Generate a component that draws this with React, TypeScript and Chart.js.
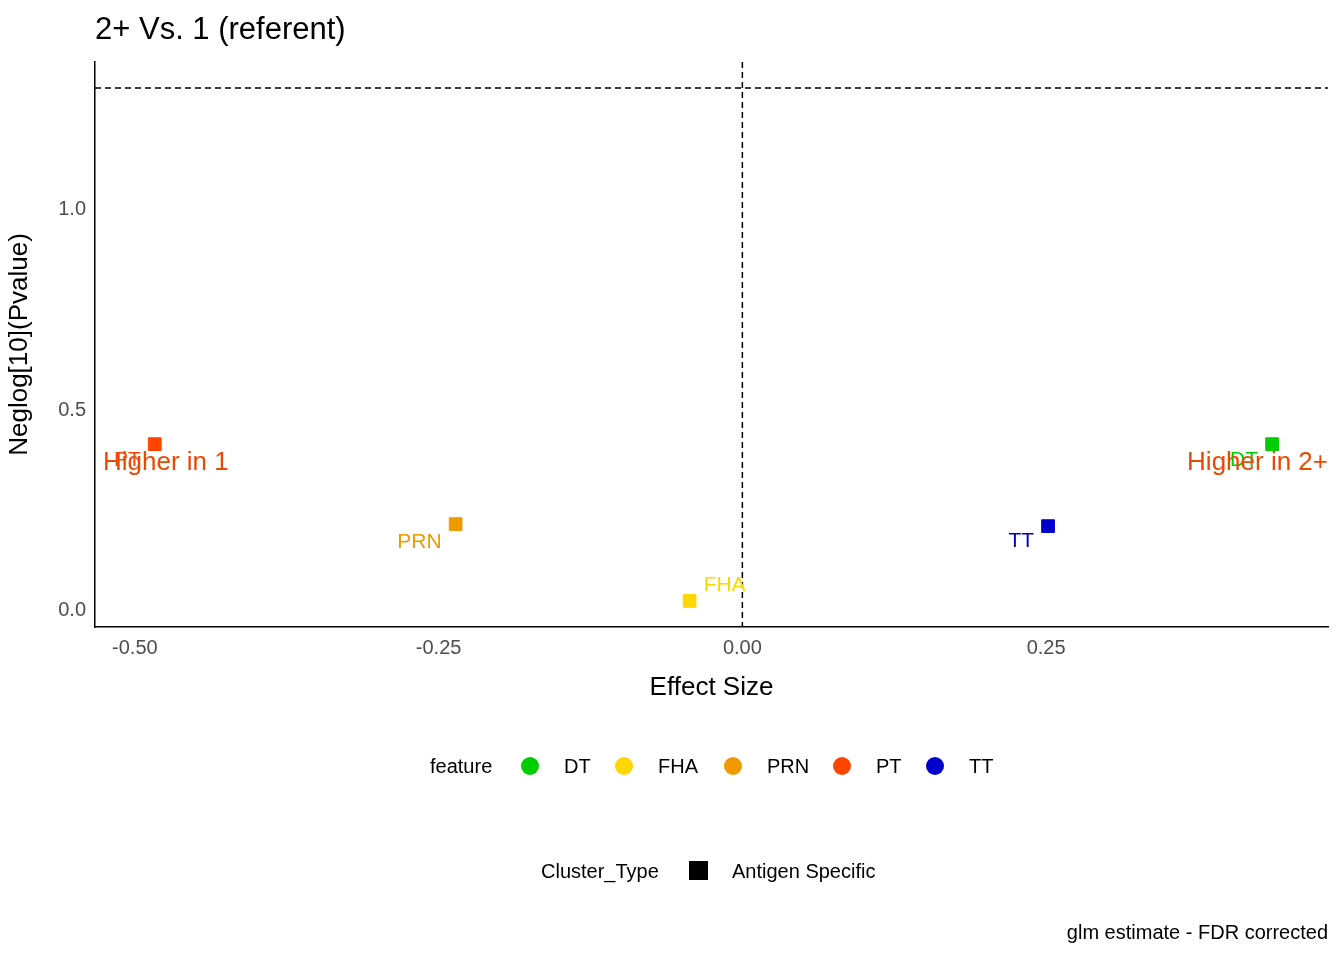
import React, { useEffect, useRef } from "react";
import { Chart, registerables } from "chart.js";
Chart.register(...registerables);

const features = ["DT", "FHA", "PRN", "PT", "TT"];
const effectSize = [0.436, -0.0434, -0.236, -0.4836, 0.2516];
const negLogP = [0.415, 0.025, 0.216, 0.415, 0.211];
const colors = ["#00CD00", "#FFD700", "#EE9A00", "#FF4500", "#0000CD"];
const yTicks = [0, 0.5, 1.0];
const xTicks = [-0.5, -0.25, 0, 0.25];
const sigLine = 1.301;

// label offsets (px) from the point: [dx, dy, align]
const labelOffsets: [number, number, CanvasTextAlign][] = [
  [-14, 16, "right"],
  [14, -16, "left"],
  [-14, 18, "right"],
  [-14, 16, "right"],
  [-14, 15, "right"],
];

const FONT = "'Liberation Sans', Arial, sans-serif";

const overlay = {
  id: "overlay",
  afterDatasetsDraw(chart: any) {
    const { ctx, chartArea, scales } = chart;
    const xs = scales.x, ys = scales.y;
    ctx.save();
    // dashed reference lines
    ctx.setLineDash([6, 4]);
    ctx.strokeStyle = "#000";
    ctx.lineWidth = 1.5;
    ctx.beginPath();
    const yy = ys.getPixelForValue(sigLine);
    ctx.moveTo(chartArea.left, yy); ctx.lineTo(chartArea.right, yy);
    const xx = xs.getPixelForValue(0);
    ctx.moveTo(xx, chartArea.top); ctx.lineTo(xx, chartArea.bottom);
    ctx.stroke();
    ctx.setLineDash([]);
    // point labels
    ctx.font = `21px ${FONT}`;
    ctx.textBaseline = "middle";
    features.forEach((f, i) => {
      const px = xs.getPixelForValue(effectSize[i]);
      const py = ys.getPixelForValue(negLogP[i]);
      const [dx, dy, al] = labelOffsets[i];
      ctx.fillStyle = colors[i];
      ctx.textAlign = al;
      ctx.fillText(f, px + dx, py + dy);
    });
    // higher-in labels
    ctx.font = `26px ${FONT}`;
    ctx.fillStyle = "#E84A00";
    ctx.textAlign = "left";
    ctx.fillText("Higher in 1", chartArea.left + 8, 463);
    ctx.textAlign = "right";
    ctx.fillText("Higher in 2+", chartArea.right, 463);
    // title
    ctx.fillStyle = "#000";
    ctx.textAlign = "left";
    ctx.font = `31px ${FONT}`;
    ctx.fillText("2+ Vs. 1 (referent)", 95, 30);
    // legend 1
    ctx.font = `20px ${FONT}`;
    ctx.fillText("feature", 430, 767);
    const cx = [530, 624, 733, 842, 935];
    features.forEach((f, i) => {
      ctx.fillStyle = colors[i];
      ctx.beginPath(); ctx.arc(cx[i], 766, 9, 0, Math.PI * 2); ctx.fill();
      ctx.fillStyle = "#000";
      ctx.fillText(f, cx[i] + 34, 767);
    });
    // legend 2
    ctx.fillText("Cluster_Type", 541, 872);
    ctx.fillRect(689, 861, 19, 19);
    ctx.fillText("Antigen Specific", 732, 872);
    // caption
    ctx.textAlign = "right";
    ctx.fillText("glm estimate - FDR corrected", 1328, 933);
    ctx.restore();
  },
};

export default function App() {
  const ref = useRef<HTMLCanvasElement>(null);
  useEffect(() => {
    const chart = new Chart(ref.current!, {
      type: "scatter",
      data: {
        datasets: [{
          data: effectSize.map((x, i) => ({ x, y: negLogP[i] })),
          pointStyle: "rect",
          pointRadius: 9,
          backgroundColor: colors,
          borderColor: colors,
        }],
      },
      options: {
        animation: false,
        responsive: false,
        layout: { padding: { top: 62, right: 16, bottom: 253, left: 0 } },
        plugins: { legend: { display: false }, tooltip: { enabled: false } },
        scales: {
          x: {
            type: "linear", min: -0.5328, max: 0.482,
            afterBuildTicks: (s: any) => { s.ticks = xTicks.map((v) => ({ value: v })); },
            afterFit: (s: any) => { s.height = 80; },
            grid: { display: false, drawTicks: true, tickLength: 5, tickColor: "#333" },
            border: { color: "#000", width: 1.5 },
            ticks: { color: "#4d4d4d", font: { size: 20, family: FONT }, padding: 4,
              callback: (v: any) => Number(v).toFixed(2) },
            title: { display: true, text: "Effect Size", color: "#000", font: { size: 26, family: FONT }, padding: { top: 0 } },
          },
          y: {
            type: "linear", min: -0.04, max: 1.366,
            afterBuildTicks: (s: any) => { s.ticks = yTicks.map((v) => ({ value: v })); },
            afterFit: (s: any) => { s.width = 95; },
            grid: { display: false, drawTicks: true, tickLength: 5, tickColor: "#333" },
            border: { color: "#000", width: 1.5 },
            ticks: { color: "#4d4d4d", font: { size: 20, family: FONT }, padding: 4,
              callback: (v: any) => Number(v).toFixed(1) },
            title: { display: true, text: "Neglog[10](Pvalue)", color: "#000", font: { size: 26, family: FONT }, padding: { bottom: 2 } },
          },
        },
      },
      plugins: [overlay],
    });
    return () => chart.destroy();
  }, []);
  return (
    <div style={{ position: "fixed", left: 0, top: 0, width: 1344, height: 960, background: "#fff" }}>
      <canvas ref={ref} width={1344} height={960} style={{ width: 1344, height: 960 }} />
    </div>
  );
}
